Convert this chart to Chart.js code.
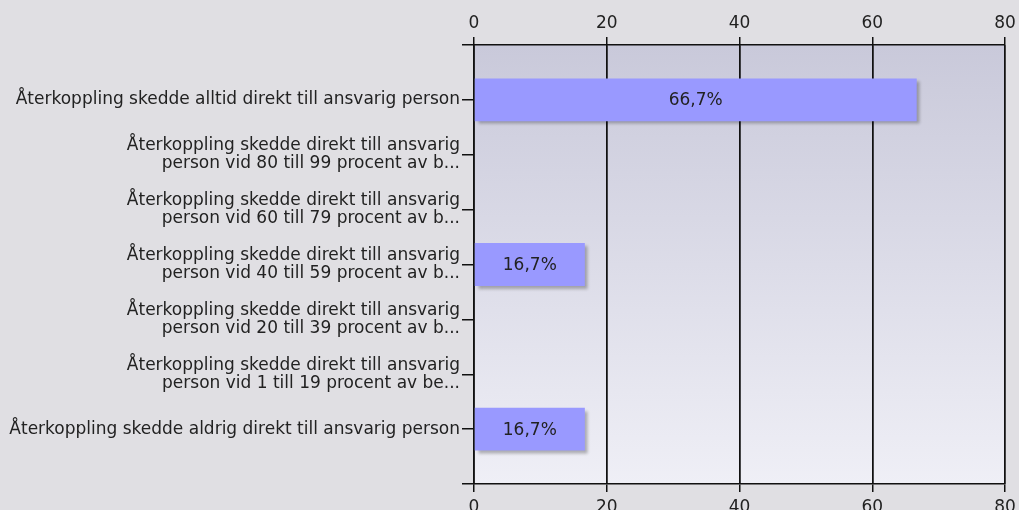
<!DOCTYPE html>
<html>
<head>
<meta charset="utf-8">
<script src="https://cdn.jsdelivr.net/npm/chart.js@4.4.1/dist/chart.umd.min.js"></script>
<style>
  html, body { margin: 0; padding: 0; background: #e0dfe3; }
  #wrap { width: 1019px; height: 510px; }
</style>
</head>
<body>
<div id="wrap"><canvas id="chart"></canvas></div>
<script>
// categories (multi-line where the original wraps)
const categories = [
  "Återkoppling skedde alltid direkt till ansvarig person",
  ["Återkoppling skedde direkt till ansvarig", "person vid 80 till 99 procent av b..."],
  ["Återkoppling skedde direkt till ansvarig", "person vid 60 till 79 procent av b..."],
  ["Återkoppling skedde direkt till ansvarig", "person vid 40 till 59 procent av b..."],
  ["Återkoppling skedde direkt till ansvarig", "person vid 20 till 39 procent av b..."],
  ["Återkoppling skedde direkt till ansvarig", "person vid 1 till 19 procent av be..."],
  "Återkoppling skedde aldrig direkt till ansvarig person"
];
const percents = [66.7, 0, 0, 16.7, 0, 0, 16.7];
const xTicks = [0, 20, 40, 60, 80];

// blank slots at both ends give the empty half-row above and below
const labels = [""].concat(categories, [""]);
const values = [null].concat(percents, [null]);

const FONT = "DejaVu Sans";
const SIZE = 17;

function fmt(v) {
  return v.toFixed(1).replace(".", ",") + "%";
}

const background = {
  id: "background",
  beforeDraw(chart) {
    const c = chart.ctx, a = chart.chartArea;
    c.save();
    c.fillStyle = "#e0dfe3";
    c.fillRect(0, 0, chart.width, chart.height);
    const g = c.createLinearGradient(0, a.top, 0, a.bottom);
    g.addColorStop(0, "#c9c9da");
    g.addColorStop(1, "#efeff6");
    c.fillStyle = g;
    c.fillRect(a.left, a.top, a.right - a.left, a.bottom - a.top);
    c.restore();
  }
};

const barShadow = {
  id: "barShadow",
  beforeDatasetsDraw(chart) {
    const c = chart.ctx;
    c.save();
    c.shadowColor = "rgba(0,0,0,0.28)";
    c.shadowOffsetX = 3;
    c.shadowOffsetY = 3;
    c.shadowBlur = 3;
  },
  afterDatasetsDraw(chart) {
    const c = chart.ctx;
    c.restore();
    // value labels in the middle of each bar
    const meta = chart.getDatasetMeta(0);
    c.save();
    c.font = SIZE + "px '" + FONT + "'";
    c.fillStyle = "#222";
    c.textAlign = "center";
    c.textBaseline = "middle";
    meta.data.forEach(function (bar, i) {
      const v = values[i];
      if (v == null || v === 0) return;
      c.fillText(fmt(v), (bar.base + bar.x) / 2, bar.y + 1);
    });
    c.restore();
  }
};

function xAxis(position, height, pad) {
  return {
    type: "linear",
    position: position,
    min: 0,
    max: 80,
    afterBuildTicks: function (s) { s.ticks = xTicks.map(function (v) { return { value: v }; }); },
    afterFit: function (s) {
      s.height = height;
      s.paddingLeft = 0;
      s.paddingRight = 0;
    },
    grid: { color: "#111", lineWidth: 1.5, tickLength: 8, tickColor: "#111" },
    border: { color: "#111", width: 1.5 },
    ticks: { color: "#222", font: { family: FONT, size: SIZE, lineHeight: 1 }, padding: pad, maxRotation: 0 }
  };
}

new Chart(document.getElementById("chart"), {
  type: "bar",
  data: {
    labels: labels,
    datasets: [{
      data: values,
      backgroundColor: "#9999ff",
      borderWidth: 0,
      barPercentage: 0.78,
      categoryPercentage: 1
    }]
  },
  options: {
    indexAxis: "y",
    responsive: true,
    maintainAspectRatio: false,
    animation: false,
    layout: { padding: { right: 14, top: 0, bottom: 0, left: 0 } },
    plugins: { legend: { display: false }, tooltip: { enabled: false } },
    scales: {
      x: xAxis("bottom", 26, 7),
      x2: xAxis("top", 45, 5),
      y: {
        type: "category",
        offset: false,
        afterFit: function (s) { s.width = 474; },
        grid: { color: "transparent", tickColor: "#111", lineWidth: 1.5, tickLength: 12, offset: false, drawOnChartArea: true },
        border: { color: "#111", width: 1.5 },
        ticks: {
          color: "#222",
          font: { family: FONT, size: SIZE, lineHeight: 18 / SIZE },
          padding: 2,
          autoSkip: false
        }
      }
    }
  },
  plugins: [background, barShadow]
});
</script>
</body>
</html>
